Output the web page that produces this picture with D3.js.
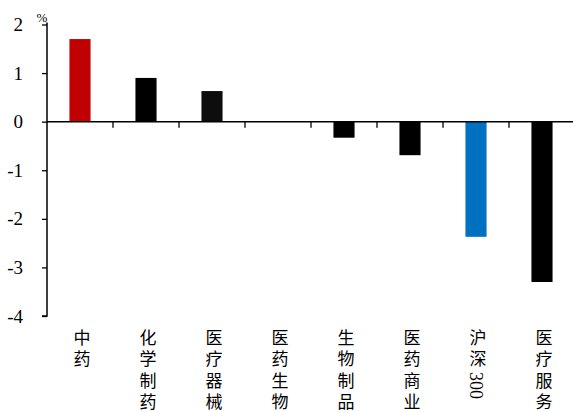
<!DOCTYPE html>
<html><head><meta charset="utf-8">
<script src="https://cdn.jsdelivr.net/npm/d3@7"></script>
<style>body{margin:0;background:#fff}</style>
</head><body>
<svg id="c" width="573" height="412"></svg>
<script>
const categories = ["中药","化学制药","医疗器械","医药生物","生物制品","医药商业","沪深300","医疗服务"];
const values = [1.70, 0.90, 0.63, 0.0, -0.33, -0.69, -2.37, -3.30];
const barColors = ["#C00000","#000000","#0D0D0D","#000000","#000000","#000000","#0070C0","#000000"];
const yTicks = [-4,-3,-2,-1,0,1,2];
const unitLabel = "%";

const svg = d3.select("#c");
const y = d3.scaleLinear().domain([-4,2]).range([316,24.5]);
const x = d3.scaleBand().domain(categories).range([47,575]).paddingInner(0.68).paddingOuter(0.34);

svg.selectAll("rect.bar").data(categories).join("rect")
  .attr("x", d => x(d))
  .attr("width", x.bandwidth())
  .attr("y", (d,i) => y(Math.max(0, values[i])))
  .attr("height", (d,i) => Math.abs(y(values[i]) - y(0)))
  .attr("fill", (d,i) => barColors[i]);

const yAxis = svg.append("g").attr("transform","translate(47,0)")
  .call(d3.axisLeft(y).tickValues(yTicks).tickSize(5).tickPadding(19).tickFormat(d => String(d)));
yAxis.select(".domain").attr("d", `M-5,${y(-4)}H0V${y(2)-2}`).attr("stroke","#000").attr("stroke-width",1.5);
yAxis.selectAll(".tick line").attr("stroke","#000").attr("stroke-width",1.3);
yAxis.selectAll(".tick text").attr("font-family","'Liberation Serif', serif").attr("font-size",19).attr("fill","#000");

// x axis line at zero
const step = x.step();
svg.append("line").attr("x1",47).attr("x2",575).attr("y1",y(0)).attr("y2",y(0)).attr("stroke","#000").attr("stroke-width",1.5);
svg.selectAll("line.xt").data(categories.slice(0,-1)).join("line")
  .attr("x1", d => x(d) + x.bandwidth()/2 + step/2)
  .attr("x2", d => x(d) + x.bandwidth()/2 + step/2)
  .attr("y1", y(0)).attr("y2", y(0)+6)
  .attr("stroke","#000").attr("stroke-width",1.3);

svg.append("text").attr("x",42).attr("y",22).attr("text-anchor","middle")
  .attr("font-family","'Liberation Serif', serif").attr("font-size",13).text(unitLabel);

// vertical category labels
categories.forEach(c => {
  const cx = x(c) + x.bandwidth()/2;
  const t = svg.append("text")
    .attr("x", cx).attr("y", 329)
    .style("writing-mode","vertical-rl")
    .attr("font-family","'Liberation Serif','Noto Sans CJK SC', serif")
    .attr("font-size",17).attr("fill","#000");
  const parts = c.match(/\d+|\D/g);
  parts.forEach((p, i) => {
    const last = i === parts.length - 1;
    if (/^\d+$/.test(p)) t.append("tspan").attr("font-size",18).style("letter-spacing","0px").text(p);
    else t.append("tspan").style("letter-spacing", last ? "0px" : "4.3px").text(p);
  });
});
</script>
</body></html>
